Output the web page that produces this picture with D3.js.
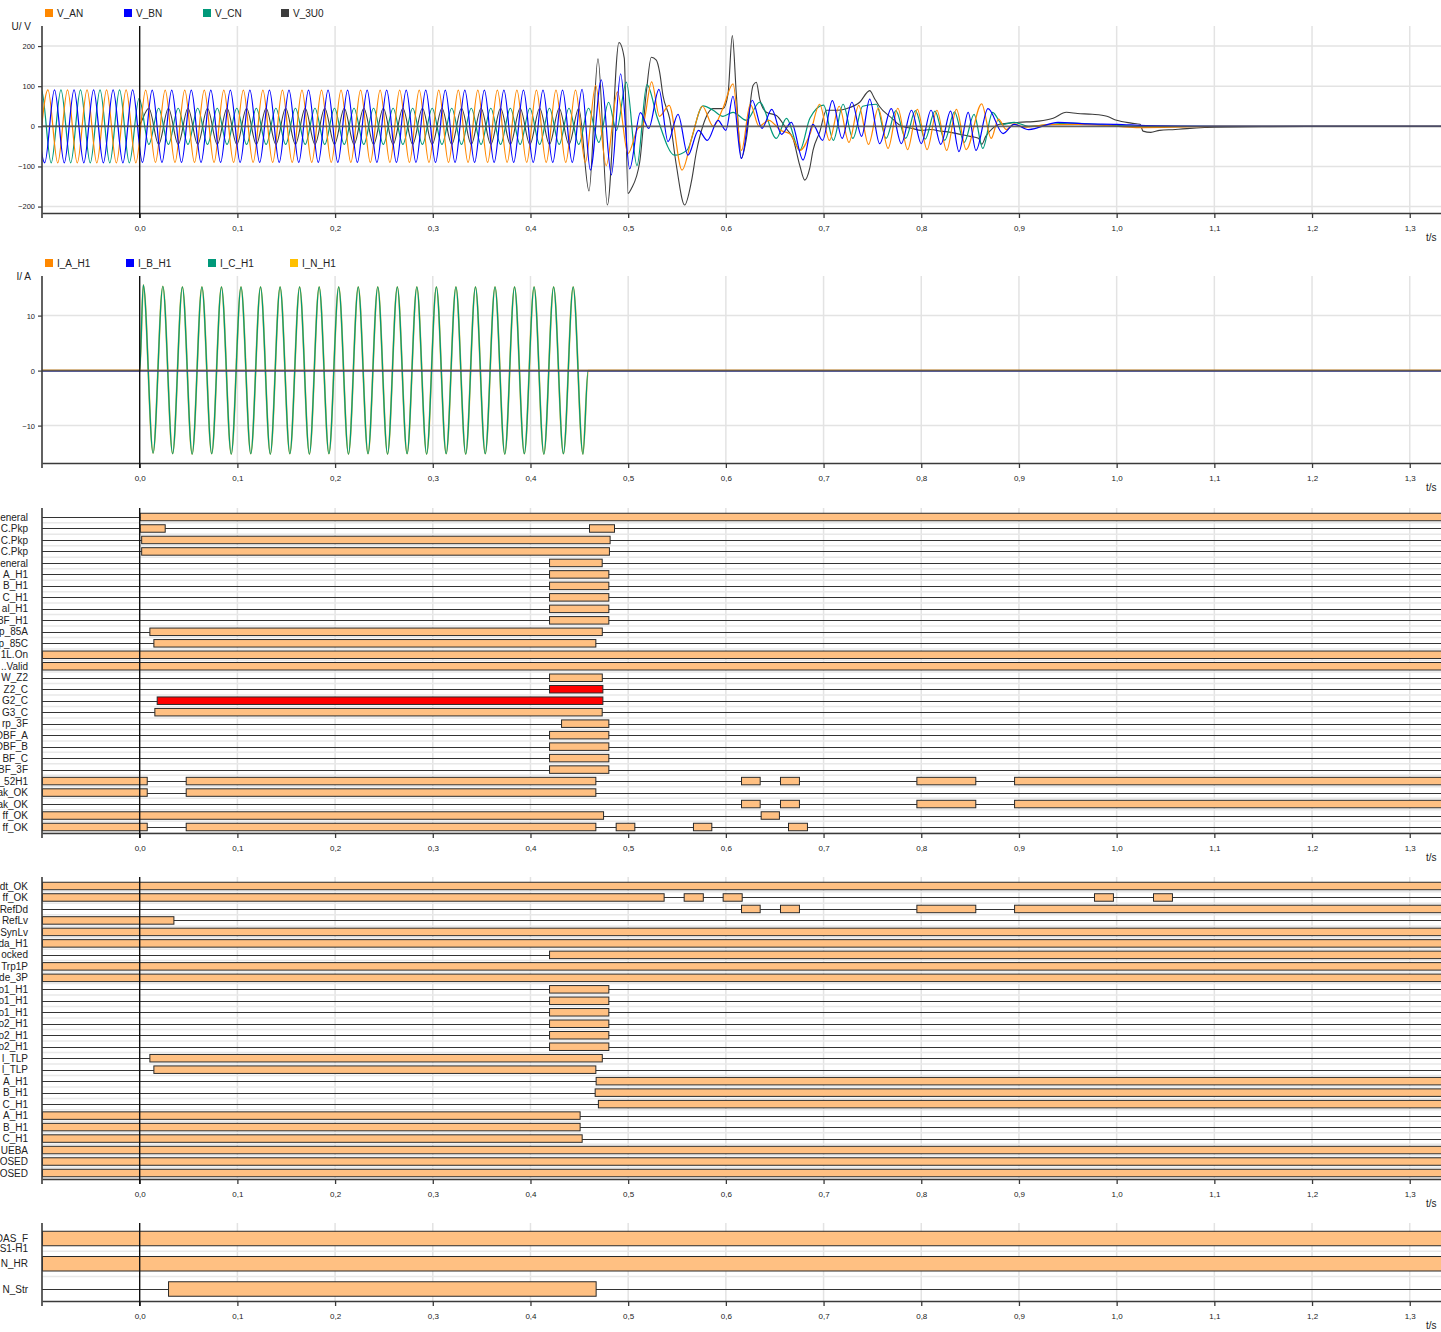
<!DOCTYPE html>
<html>
<head>
<meta charset="utf-8">
<script src="https://cdn.jsdelivr.net/npm/d3@7"></script>
<style>
  body { margin: 0; background: #fff; }
  svg { display: block; }
  text { font-family: "Liberation Sans", Arial, sans-serif; fill: #222; }
</style>
</head>
<body>
<svg id="chart" width="1441" height="1332"></svg>
<script>
// ---------- time axis ----------
const T_START = -0.1;
const T_END = 1.34;
const timeTicks = [0, 0.1, 0.2, 0.3, 0.4, 0.5, 0.6, 0.7, 0.8, 0.9, 1.0, 1.1, 1.2, 1.3];

// ---------- analog channels: voltages (V) ----------
// steady part: half-cycle extrema sampled every 10 ms from the start time
const vanStart = -0.1039;
const vanPeaks = [-91,91,-91,91,-91,91,-91,91,-91,91,-91,
  90,-90,90,-90,90,-90,90,-90,90,-90, 90,-90,90,-90,90,-90,90,-90,90,-90,
  90,-90,90,-90,90,-90,90,-90,90,-90, 90,-90,90,-90,90,-90,90,-90,90,-90,
  90,-90,90,-90,90,-90];
const vanTail = [[0.4667,102],[0.4775,-98],[0.4890,86],[0.4998,-68],[0.5100,-5],[0.5150,2],[0.5240,111],
  [0.5320,25],[0.5420,52],[0.5551,-109],[0.5660,-20],[0.5760,50],[0.5870,0],[0.5970,45],[0.6073,106],
  [0.6160,-60],[0.6250,55],[0.6340,0],[0.6440,15],[0.6560,-10],[0.6660,-20],[0.6760,-60],[0.6860,-20],
  [0.6960,55],[0.7060,-35],[0.7160,50],[0.7260,-40],[0.7360,52],[0.7460,-45],[0.7560,45],[0.7660,-55],
  [0.7760,45],[0.7860,-58],[0.7960,42],[0.8060,-58],[0.8160,40],[0.8260,-60],[0.8360,42],[0.8460,-58],
  [0.8618,56],[0.8716,-30],[0.8790,18],[0.8870,-8],[0.8950,6],[0.9050,-2],[0.93,4],[0.96,5],[0.99,2],
  [1.02,-3],[1.06,-2],[1.10,0],[1.34,0]];

const vbnStart = -0.1072;
const vbnPeaks = [91,-91,91,-91,91,-91,91,-91,91,-91,91,
  -90,90,-90,90,-90,90,-90,90,-90,90, -90,90,-90,90,-90,90,-90,90,-90,90,
  -90,90,-90,90,-90,90,-90,90,-90,90, -90,90,-90,90,-90,90,-90,90,-90,90,
  -90,90,-90,90,-90,92];
const vbnTail = [[0.4613,-109],[0.4725,116],[0.4828,-121],[0.4923,131],[0.5015,-106],[0.5125,34],[0.5210,-5],
  [0.5315,92],[0.5408,-38],[0.5510,30],[0.5612,-72],[0.5720,-10],[0.5810,-35],[0.5920,15],[0.6000,-10],
  [0.6073,75],[0.6158,-80],[0.6270,65],[0.6370,-5],[0.6470,42],[0.6570,-20],[0.6670,10],[0.6790,-84],
  [0.6890,5],[0.6990,-35],[0.7090,64],[0.7190,-30],[0.7290,60],[0.7390,-25],[0.7472,68],[0.7574,-43],
  [0.7693,44],[0.7796,-43],[0.7900,40],[0.8000,-43],[0.8100,40],[0.8200,-45],[0.8300,38],[0.8386,-63],
  [0.8480,35],[0.8560,-60],[0.8683,44],[0.8837,-18],[0.8950,5],[0.9100,-8],[0.9400,10],[0.97,6],[1.0,5],
  [1.03,2],[1.10,0],[1.34,0]];

const vcnStart = -0.1106;
const vcnPeaks = [-91,91,-91,91,-91,91,-91,91,-91,91,-91,
  70,
  -45,45,-45,45,-45,45,-45,45,-45,45, -45,45,-45,45,-45,45,-45,45,-45,45,
  -45,45,-45,45,-45,45,-45,45,-45,45, -45,45,-45,45,-45,45,-45,45,-45,45,
  -45,45,-45,45,-45];
const vcnTail = [[0.4594,45],[0.4700,-40],[0.4800,60],[0.4880,-10],[0.4981,110],[0.5090,-98],[0.5192,104],
  [0.5300,20],[0.5476,-72],[0.5600,-60],[0.5766,51],[0.5870,40],[0.5970,25],[0.6073,35],[0.6210,15],
  [0.6346,60],[0.6517,-30],[0.6620,20],[0.6756,-60],[0.6860,20],[0.7000,53],[0.7100,-35],[0.7200,55],
  [0.7300,-30],[0.7400,50],[0.7540,55],[0.7640,-30],[0.7740,39],[0.7840,-30],[0.7940,39],[0.8040,-32],
  [0.8140,38],[0.8240,-35],[0.8340,36],[0.8440,-40],[0.8540,30],[0.8630,-55],[0.8730,35],[0.8830,5],
  [0.8950,10],[0.9100,0],[0.95,8],[0.99,3],[1.03,0],[1.34,0]];

const v3u0Head = [[-0.1,0],[-0.002,0]];
const v3u0Start = 0.0094;
const v3u0Peaks = [45,-45,45,-45,45,-45,45,-45,45,-45, 45,-45,45,-45,45,-45,45,-45,45,-45,
  45,-45,45,-45,45,-45,45,-45,45,-45, 45,-45,45,-45,45,-45,45,-45,45,-45, 45,-45,45,-45,45];
const v3u0Tail = [[0.4599,-161],[0.4691,168],[0.4787,-196],[0.4906,209],[0.4960,170],[0.4998,-167],
  [0.5033,-155],[0.5118,-89],[0.5186,85],[0.5237,172],[0.5288,165],[0.5322,135],[0.5356,77],[0.5425,19],
  [0.5493,-97],[0.5578,-196],[0.5647,-138],[0.5698,-64],[0.5766,2],[0.5869,44],[0.5971,44],[0.6022,81],
  [0.6066,226],[0.6107,80],[0.6158,-80],[0.6210,-30],[0.6278,102],[0.6312,110],[0.6346,68],[0.6415,35],
  [0.6517,27],[0.6619,-6],[0.6688,-31],[0.6756,-97],[0.6807,-134],[0.6858,-105],[0.6892,-60],[0.6961,-14],
  [0.7029,40],[0.7131,40],[0.7234,44],[0.7370,60],[0.7472,89],[0.7520,70],[0.7570,50],[0.7700,20],
  [0.7800,0],[0.7900,-5],[0.8000,-10],[0.8100,-8],[0.8200,-12],[0.8300,-15],[0.8400,-20],[0.8500,-25],
  [0.8586,-30],[0.8620,-45],[0.8660,-25],[0.8730,-5],[0.8800,5],[0.8900,8],[0.9000,10],[0.9200,13],
  [0.9350,20],[0.9485,35],[0.9600,32],[0.9750,30],[0.9900,25],[1.0000,15],[1.0150,8],[1.0240,5],
  [1.0270,-12],[1.0350,-15],[1.0440,-10],[1.0600,-8],[1.0750,-5],[1.0900,-3],[1.1000,-2],[1.1500,-1],
  [1.2000,0],[1.3400,0]];

// ---------- analog channels: currents (A) ----------
const icStart = 0.0037;
const icPeaks = [15.6,-15.0,15.3,-15.1,15.2,-15.2,15.2,-15.1,15.2,-15.2,15.2,-15.1,15.2,-15.2,15.2,-15.1,
  15.2,-15.2,15.2,-15.1,15.2,-15.2,15.2,-15.1,15.2,-15.2,15.2,-15.1,15.2,-15.2,15.2,-15.1,15.2,-15.2,
  15.2,-15.1,15.2,-15.2,15.2,-15.1,15.2,-15.2,15.2,-15.1,15.2,-15.2];
const icEdges = [[0,0],[0.459,0],[1.34,0]];
const inStart = 0.0037;
const inPeaks = [15.6,-15.0,15.3,-15.1,15.2,-15.2,15.2,-15.1,15.2,-15.2,15.2,-15.1,15.2,-15.2,15.2,-15.1,
  15.2,-15.2,15.2,-15.1,15.2,-15.2,15.2,-15.1,15.2,-15.2,15.2,-15.1,15.2,-15.2,15.2,-15.1,15.2,-15.2,
  15.2,-15.1,15.2,-15.2,15.2,-15.1,15.2,-15.2,15.2,-15.1,15.2,-15.2];
const iaFlat = [[-0.1,0.05],[1.34,0.05]];
const ibFlat = [[-0.1,-0.05],[1.34,-0.05]];

// ---------- binary channels ----------
const S = T_START, E = T_END;
const binLabelsA = ["eneral","C.Pkp","C.Pkp","C.Pkp","eneral","A_H1","B_H1","C_H1","al_H1","3F_H1",
  "p_85A","p_85C","1L.On","..Valid","W_Z2","Z2_C","G2_C","G3_C","rp_3F","DBF_A","DBF_B","BF_C",
  "BF_3F","_52H1","ak_OK","ak_OK","ff_OK","ff_OK"];
const binOnA = [
  [[0,E]],
  [[0,0.0256],[0.4599,0.4855]],
  [[0.0015,0.4810]],
  [[0.0015,0.4803]],
  [[0.419,0.4729]],
  [[0.419,0.4797]],
  [[0.419,0.4797]],
  [[0.419,0.4797]],
  [[0.419,0.4797]],
  [[0.419,0.4797]],
  [[0.0099,0.4730]],
  [[0.0140,0.4664]],
  [[S,E]],
  [[S,E]],
  [[0.419,0.4730]],
  [[0.419,0.4736]],
  [[0.0174,0.4736]],
  [[0.0150,0.4729]],
  [[0.4313,0.4797]],
  [[0.419,0.4797]],
  [[0.419,0.4797]],
  [[0.419,0.4797]],
  [[0.419,0.4797]],
  [[S,0.0072],[0.0471,0.4664],[0.6155,0.6346],[0.6554,0.6748],[0.795,0.8553],[0.895,E]],
  [[S,0.0072],[0.0471,0.4664]],
  [[0.6155,0.6346],[0.6554,0.6748],[0.795,0.8553],[0.895,E]],
  [[S,0.4743],[0.6356,0.6543]],
  [[S,0.0072],[0.0471,0.4664],[0.4872,0.5063],[0.5663,0.5851],[0.6636,0.6830]]
];
const alarmRowsA = [15, 16];

const binLabelsB = ["dt_OK","ff_OK","RefDd","RefLv","SynLv","da_H1","ocked","Trp1P","de_3P","o1_H1",
  "o1_H1","o1_H1","o2_H1","o2_H1","o2_H1","l_TLP","l_TLP","A_H1","B_H1","C_H1","A_H1","B_H1","C_H1",
  "UEBA","OSED","OSED"];
const binOnB = [
  [[S,E]],
  [[S,0.5363],[0.5568,0.5764],[0.5967,0.6162],[0.9768,0.9962],[1.0372,1.0566]],
  [[0.6155,0.6346],[0.6554,0.6748],[0.795,0.8553],[0.895,E]],
  [[S,0.0345]],
  [[S,E]],
  [[S,E]],
  [[0.419,E]],
  [[S,E]],
  [[S,E]],
  [[0.419,0.4797]],
  [[0.419,0.4797]],
  [[0.419,0.4797]],
  [[0.419,0.4797]],
  [[0.419,0.4797]],
  [[0.419,0.4797]],
  [[0.0099,0.4730]],
  [[0.0140,0.4664]],
  [[0.4667,E]],
  [[0.4657,E]],
  [[0.4690,E]],
  [[S,0.4503]],
  [[S,0.4503]],
  [[S,0.4524]],
  [[S,E]],
  [[S,E]],
  [[S,E]]
];

const binLabelsC = [["DAS_F","S1-H1"],["N_HR"],["N_Str"]];
const binOnC = [
  [[S,E]],
  [[S,E]],
  [[0.029,0.4667]]
];

// ---------- drawing ----------
const svg = d3.select("#chart");
const PLOT_L = 42, PLOT_R = 1441;
const x = d3.scaleLinear().domain([-0.1, 1.332]).range([PLOT_L, PLOT_R]);
const fmt = d3.formatLocale({decimal: ",", thousands: ".", grouping: [3], currency: ["", ""]}).format(".1f");

const GRID = "#e3e3e3";
const AXIS = "#3a3a3a";
const BAR_FILL = "#ffc082";
const BAR_ALARM = "#ff0000";

let clipId = 0;
function panel(top, bottom) {
  const g = svg.append("g");
  const id = "clip" + (clipId++);
  svg.append("clipPath").attr("id", id)
    .append("rect").attr("x", PLOT_L).attr("y", top).attr("width", PLOT_R - PLOT_L).attr("height", bottom - top);
  // vertical grid
  g.append("g").selectAll("line").data(timeTicks.filter(t => t !== 0)).join("line")
    .attr("x1", d => x(d)).attr("x2", d => x(d)).attr("y1", top).attr("y2", bottom)
    .attr("stroke", GRID).attr("stroke-width", 1.5);
  const body = g.append("g").attr("clip-path", `url(#${id})`);
  const over = g.append("g");
  return {g, body, over, top, bottom, id};
}

function timeAxis(p) {
  const ax = d3.axisBottom(x).tickValues(timeTicks).tickFormat(fmt).tickSize(5).tickSizeOuter(0).tickPadding(7);
  const a = p.over.append("g").attr("transform", `translate(0,${p.bottom})`).call(ax);
  a.select(".domain").attr("stroke", AXIS).attr("stroke-width", 1.6);
  a.selectAll(".tick line").attr("stroke", AXIS).attr("stroke-width", 1.3);
  a.selectAll(".tick text").attr("font-size", 8).attr("fill", "#333")
    .attr("font-family", "'Liberation Sans', Arial, sans-serif");
  // y axis line (extends below x axis like a tick)
  p.over.append("line").attr("x1", PLOT_L).attr("x2", PLOT_L).attr("y1", p.top).attr("y2", p.bottom + 5)
    .attr("stroke", AXIS).attr("stroke-width", 1.6);
  // trigger instant t = 0
  p.over.append("line").attr("x1", x(0)).attr("x2", x(0)).attr("y1", p.top).attr("y2", p.bottom + 5)
    .attr("stroke", "#111").attr("stroke-width", 1.4);
  p.over.append("text").attr("x", 1426).attr("y", p.bottom + 27.5).attr("font-size", 10).text("t/s");
}

function legend(y0, items, xs) {
  const lg = svg.append("g");
  items.forEach((it, i) => {
    lg.append("rect").attr("x", xs[i]).attr("y", y0 - 4).attr("width", 8).attr("height", 8).attr("fill", it.color);
    lg.append("text").attr("x", xs[i] + 12).attr("y", y0 + 3.6).attr("font-size", 10).text(it.name);
  });
}

function pointsFrom(start, peaks) {
  return peaks.map((v, i) => [start + i * 0.01, v]);
}

function analogPanel(cfg) {
  const p = panel(cfg.top, cfg.bottom);
  const y = d3.scaleLinear().domain(cfg.domain).range([cfg.bottom, cfg.top]);
  // horizontal grid
  p.body.append("g").selectAll("line").data(cfg.ticks.filter(v => v !== 0)).join("line")
    .attr("x1", PLOT_L).attr("x2", PLOT_R).attr("y1", d => y(d)).attr("y2", d => y(d))
    .attr("stroke", GRID).attr("stroke-width", 1.5);
  const line = d3.line().x(d => x(d[0])).y(d => y(d[1])).curve(d3.curveMonotoneX);
  cfg.series.forEach(s => {
    p.body.append("path").datum(s.points).attr("d", line).attr("fill", "none")
      .attr("stroke", s.color).attr("stroke-width", s.width || 1.2).attr("stroke-linejoin", "round");
  });
  // zero line
  p.body.append("line").attr("x1", PLOT_L).attr("x2", PLOT_R).attr("y1", y(0)).attr("y2", y(0))
    .attr("stroke", "#555").attr("stroke-width", 1.8).attr("opacity", 0.9);
  const ya = d3.axisLeft(y).tickValues(cfg.ticks).tickSize(4).tickSizeOuter(0).tickPadding(3);
  const a = p.over.append("g").attr("transform", `translate(${PLOT_L},0)`).call(ya);
  a.select(".domain").remove();
  a.selectAll(".tick line").attr("stroke", AXIS).attr("stroke-width", 1.2);
  a.selectAll(".tick text").attr("font-size", 7.5).attr("fill", "#333")
    .attr("font-family", "'Liberation Sans', Arial, sans-serif");
  timeAxis(p);
  svg.append("text").attr("x", 31).attr("y", cfg.top + 4).attr("text-anchor", "end")
    .attr("font-size", 10).text(cfg.unit);
}

function binaryPanel(cfg) {
  const p = panel(cfg.top, cfg.bottom);
  const rows = d3.scalePoint().domain(d3.range(cfg.on.length)).range(cfg.rowRange);
  const step = rows.step();
  // row separators
  p.body.append("g").selectAll("line").data(d3.range(cfg.on.length)).join("line")
    .attr("x1", PLOT_L).attr("x2", PLOT_R)
    .attr("y1", d => rows(d) + step / 2).attr("y2", d => rows(d) + step / 2)
    .attr("stroke", "#e8e8e8").attr("stroke-width", 1.5);
  // low-state lines
  p.body.append("g").selectAll("line").data(d3.range(cfg.on.length)).join("line")
    .attr("x1", PLOT_L).attr("x2", PLOT_R)
    .attr("y1", d => Math.round(rows(d)) + 0.5).attr("y2", d => Math.round(rows(d)) + 0.5)
    .attr("stroke", "#333").attr("stroke-width", 1);
  // high-state bars
  cfg.on.forEach((spans, r) => {
    p.body.append("g").selectAll("rect").data(spans).join("rect")
      .attr("x", d => x(d[0]) + 0.5).attr("width", d => x(d[1]) - x(d[0]))
      .attr("y", rows(r) - cfg.barH / 2).attr("height", cfg.barH)
      .attr("fill", (cfg.alarm || []).includes(r) ? BAR_ALARM : BAR_FILL)
      .attr("stroke", "#2a2a2a").attr("stroke-width", 1);
  });
  timeAxis(p);
  // labels
  const lab = svg.append("g");
  cfg.labels.forEach((l, r) => {
    const parts = Array.isArray(l) ? l : [l];
    parts.forEach((t, k) => {
      lab.append("text").attr("x", 28).attr("y", rows(r) + 3.6 + k * cfg.lineGap)
        .attr("text-anchor", "end").attr("font-size", 10).text(t);
    });
  });
}

// voltage panel
legend(13, [
  {name: "V_AN", color: "#ff8800"}, {name: "V_BN", color: "#0000ff"},
  {name: "V_CN", color: "#00997a"}, {name: "V_3U0", color: "#3c3c3c"}
], [45, 124, 203, 281]);
analogPanel({
  top: 26, bottom: 213, domain: [-216, 250], ticks: [-200, -100, 0, 100, 200], unit: "U/ V",
  series: [
    {color: "#3c3c3c", width: 1.1, points: v3u0Head.concat(pointsFrom(v3u0Start, v3u0Peaks), v3u0Tail)},
    {color: "#00997a", points: pointsFrom(vcnStart, vcnPeaks).concat(vcnTail)},
    {color: "#ff8800", points: pointsFrom(vanStart, vanPeaks).concat(vanTail)},
    {color: "#0000ff", points: pointsFrom(vbnStart, vbnPeaks).concat(vbnTail)}
  ]
});

// current panel
legend(263, [
  {name: "I_A_H1", color: "#ff8800"}, {name: "I_B_H1", color: "#0000ff"},
  {name: "I_C_H1", color: "#00997a"}, {name: "I_N_H1", color: "#ffc000"}
], [45, 126, 208, 290]);
analogPanel({
  top: 276, bottom: 463, domain: [-16.8, 17.2], ticks: [-10, 0, 10], unit: "I/ A",
  series: [
    {color: "#f0c040", width: 1.8, points: [[-0.1,0]].concat([icEdges[0]], pointsFrom(inStart, inPeaks), icEdges.slice(1))},
    {color: "#00997a", width: 1.3, points: [[-0.1,0]].concat([icEdges[0]], pointsFrom(icStart, icPeaks), icEdges.slice(1))},
    {color: "#0000ff", width: 1.2, points: ibFlat},
    {color: "#ff8800", width: 1.2, points: iaFlat}
  ]
});

// binary panels
binaryPanel({top: 508, bottom: 833, rowRange: [517, 827], on: binOnA, labels: binLabelsA,
  alarm: alarmRowsA, barH: 7.5, lineGap: 10});
binaryPanel({top: 877, bottom: 1179, rowRange: [886, 1173], on: binOnB, labels: binLabelsB,
  barH: 7.5, lineGap: 10});
binaryPanel({top: 1223, bottom: 1301, rowRange: [1238.5, 1289], on: binOnC, labels: binLabelsC,
  barH: 14.5, lineGap: 10});
</script>
</body>
</html>
